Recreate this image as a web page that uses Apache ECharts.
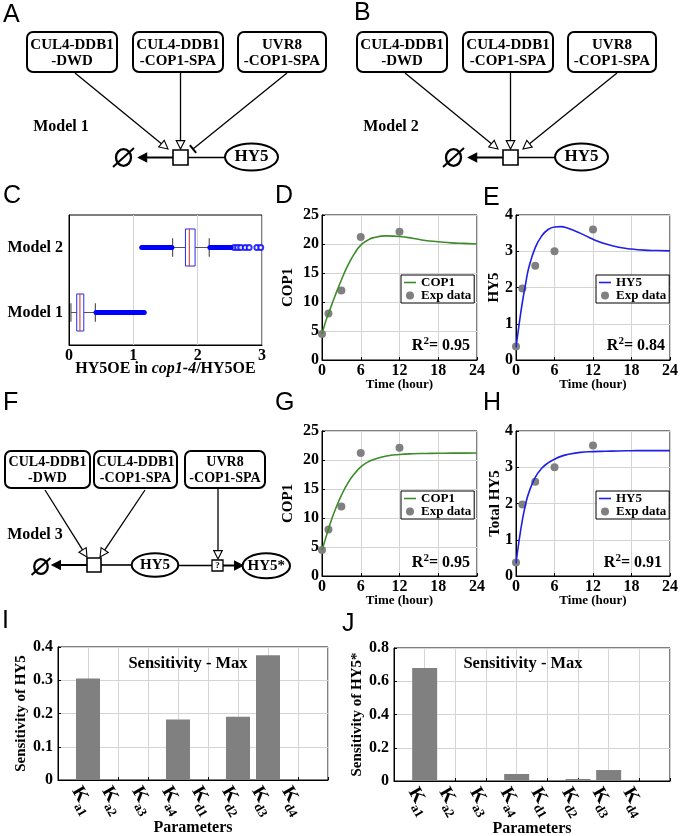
<!DOCTYPE html>
<html><head><meta charset="utf-8">
<script src="https://cdn.jsdelivr.net/npm/echarts@6/dist/echarts.min.js"></script>
<style>html,body{margin:0;padding:0;background:#fff}#c{width:680px;height:836px}</style>
</head><body><div id="c"></div>
<script>
// ---------------- data ----------------
const timeTicks = [0, 6, 12, 18, 24];
const expTime = [0, 1, 3, 6, 12];
const expCOP1 = [4.5, 8.0, 12.0, 21.2, 22.1];
const expHY5 = [0.37, 1.97, 2.6, 3.0, 3.6];
const modelTime = [0, 0.5, 1, 1.5, 2, 3, 4, 5, 6, 7, 8, 10, 12, 14, 16, 18, 20, 22, 24];
const model1COP1 = [4.5, 6.4, 8.0, 9.5, 11.0, 13.8, 16.3, 18.3, 19.8, 20.6, 21.1, 21.4, 21.3, 21.0, 20.6, 20.4, 20.2, 20.1, 20.0];
const model1HY5 = [0.35, 1.0, 1.6, 2.1, 2.55, 3.1, 3.42, 3.6, 3.67, 3.68, 3.64, 3.5, 3.33, 3.2, 3.11, 3.06, 3.03, 3.02, 3.01];
const model3COP1 = [4.5, 6.3, 8.1, 9.8, 11.3, 13.9, 16.0, 17.6, 18.8, 19.6, 20.1, 20.7, 20.95, 21.08, 21.13, 21.16, 21.18, 21.19, 21.2];
const model3HY5 = [0.35, 1.0, 1.55, 1.98, 2.3, 2.72, 2.97, 3.12, 3.22, 3.3, 3.35, 3.41, 3.43, 3.44, 3.45, 3.455, 3.46, 3.46, 3.46];
const r2Labels = ['0.95', '0.84', '0.95', '0.91'];

const boxCategories = ['Model 1', 'Model 2'];
// [lower whisker, Q1, median, Q3, upper whisker]
const boxStats = [[0.03, 0.12, 0.17, 0.23, 0.41], [1.61, 1.81, 1.87, 1.96, 2.18]];
// [category index, start, end] of densely packed outliers
const denseOutliers = [[0, 0.42, 1.17], [1, 1.13, 1.60], [1, 2.19, 2.52]];
const sparseOutliers = [[2.57, 1], [2.62, 1], [2.67, 1], [2.74, 1], [2.80, 1], [2.92, 1], [2.98, 1]];

const paramNames = ['a1', 'a2', 'a3', 'a4', 'd1', 'd2', 'd3', 'd4'];
const sensHY5 = [0.305, 0, 0, 0.182, 0, 0.19, 0.375, 0];
const sensHY5star = [0.68, 0, 0, 0.042, 0, 0.012, 0.066, 0];

// ---------------- styles ----------------
const SERIF = '"Liberation Serif","Times New Roman",Times,serif';
const SANS = '"Liberation Sans",Arial,Helvetica,sans-serif';
const GRIDC = '#d4d4d4';
const GREEN = '#3d8b2b';
const BLUE = '#1f1fe6';
const GRAY = '#808080';

function lbl(size, extra) { return Object.assign({ color: '#000', fontFamily: SERIF, fontWeight: 'bold', fontSize: size, margin: 3 }, extra || {}); }
function nameStyle(size, extra) { return Object.assign({ color: '#000', fontFamily: SERIF, fontWeight: 'bold', fontSize: size }, extra || {}); }
function valAxis(gi, min, max, interval, o) {
  return Object.assign({
    gridIndex: gi, type: 'value', min: min, max: max, interval: interval,
    nameMoveOverlap: false,
    axisLine: { show: true, onZero: false, lineStyle: { color: '#000', width: 1 } },
    axisTick: { show: true, inside: true, length: 3, lineStyle: { color: '#000' } },
    axisLabel: lbl(16),
    splitLine: { show: true, lineStyle: { color: GRIDC, width: 1 } }
  }, o || {});
}

// ---------------- graphics (diagrams, labels) ----------------
const G = [];
const LW = 1.3;
function gline(x1, y1, x2, y2, w) { G.push({ type: 'line', z: 10, silent: true, shape: { x1: x1, y1: y1, x2: x2, y2: y2 }, style: { stroke: '#000', lineWidth: w || LW } }); }
function gtext(x, y, str, font, align, valign, extra) {
  G.push({ type: 'text', z: 11, silent: true, style: Object.assign({ x: x, y: y, text: str, font: font, fill: '#000',
    align: align || 'center', verticalAlign: valign || 'middle', textAlign: align || 'center', textVerticalAlign: valign || 'middle' }, extra || {}) });
}
function gbox(x, y, w, h, l1, l2, font) {
  G.push({ type: 'rect', z: 10, silent: true, shape: { x: x, y: y, width: w, height: h, r: 6 }, style: { fill: '#fff', stroke: '#000', lineWidth: 2 } });
  gtext(x + w / 2, y + h * 0.32, l1, font);
  gtext(x + w / 2, y + h * 0.74, l2, font);
}
function garrow(fx, fy, tx, ty, kind) {
  const dx = tx - fx, dy = ty - fy, L = Math.hypot(dx, dy), ux = dx / L, uy = dy / L, nx = -uy, ny = ux;
  if (kind === 'bar') { gline(fx, fy, tx, ty); gline(tx + nx * 5, ty + ny * 5, tx - nx * 5, ty - ny * 5, 2); return; }
  const len = 8.4, half = 4.3;
  const bx = tx - ux * len, by = ty - uy * len;
  gline(fx, fy, bx, by, kind === 'filled' ? 2 : LW);
  G.push({ type: 'polygon', z: 10, silent: true, shape: { points: [[tx, ty], [bx + nx * half, by + ny * half], [bx - nx * half, by - ny * half]] },
    style: { fill: kind === 'filled' ? '#000' : '#fff', stroke: '#000', lineWidth: 1.1 } });
}
function gempty(cx, cy, s) {
  G.push({ type: 'ellipse', z: 10, silent: true, shape: { cx: cx, cy: cy, rx: 7.5 * s, ry: 8.3 * s }, style: { fill: 'none', stroke: '#000', lineWidth: 2.3 } });
  gline(cx - 10.5 * s, cy + 9.5 * s, cx + 10.5 * s, cy - 9.5 * s, 2);
}
function gellipse(cx, cy, rx, ry, label, font) {
  G.push({ type: 'ellipse', z: 10, silent: true, shape: { cx: cx, cy: cy, rx: rx, ry: ry }, style: { fill: '#fff', stroke: '#000', lineWidth: 2 } });
  gtext(cx, cy, label, font);
}
function gsquare(x, y, s, lw) { G.push({ type: 'rect', z: 10, silent: true, shape: { x: x, y: y, width: s, height: s }, style: { fill: '#fff', stroke: '#000', lineWidth: lw || 1.6 } }); }

function modelAB(ox, label, third) {
  const F15 = 'bold 15px ' + SERIF;
  gbox(ox + 27, 32, 90, 40, 'CUL4-DDB1', '-DWD', F15);
  gbox(ox + 133, 32, 90, 40, 'CUL4-DDB1', '-COP1-SPA', F15);
  gbox(ox + 238, 32, 88, 40, 'UVR8', '-COP1-SPA', F15);
  gtext(ox + 61, 127, label, 'bold 16px ' + SERIF);
  garrow(ox + 75, 73, ox + 168, 149, 'open');
  garrow(ox + 180.5, 73, ox + 180.5, 149, 'open');
  garrow(ox + 287, 73, ox + 193, 149, third);
  garrow(ox + 173, 157.5, ox + 138.3, 157.5, 'filled');
  gline(ox + 188, 157.5, ox + 225, 157.5, 1.6);
  gsquare(ox + 173, 150, 15);
  gempty(ox + 123.5, 157.5, 1);
  gellipse(ox + 251.5, 157, 26.5, 13.5, 'HY5', 'bold 17px ' + SERIF);
}
modelAB(0, 'Model 1', 'bar');
modelAB(330, 'Model 2', 'open');

(function modelF() {
  const F14 = 'bold 14px ' + SERIF;
  gbox(5, 451, 85, 37, 'CUL4-DDB1', '-DWD', F14);
  gbox(94, 451, 83, 37, 'CUL4-DDB1', '-COP1-SPA', F14);
  gbox(185, 451, 80, 37, 'UVR8', '-COP1-SPA', F14);
  gtext(35, 535, 'Model 3', 'bold 16px ' + SERIF);
  garrow(45, 490, 87, 557, 'open');
  garrow(145, 490, 100, 557, 'open');
  garrow(218, 489, 218, 559, 'open');
  garrow(87, 565, 52, 565, 'filled');
  gline(101, 565, 132, 565, 1.6);
  gline(178, 565.5, 212, 565.5, 1.6);
  garrow(223, 565.5, 243, 565.5, 'filled');
  gsquare(87, 558, 14);
  gsquare(212, 560, 11, 1.3);
  gtext(217.5, 565.5, '?', 'bold 9px ' + SERIF);
  gempty(41, 566.5, 0.9);
  gellipse(155, 565, 23.3, 11.7, 'HY5', 'bold 15px ' + SERIF);
  gellipse(266.3, 565.8, 23.7, 12.5, 'HY5*', 'bold 15px ' + SERIF);
})();

// panel letters
[['A', 3, 7], ['B', 354, 5], ['C', 3, 188], ['D', 275, 188], ['E', 483, 190], ['F', 3, 395], ['G', 275, 395], ['H', 483, 395], ['I', 2, 613], ['J', 342, 616]]
  .forEach(function (p) { gtext(p[1], p[2] - 4, p[0], '25px ' + SANS, 'left', 'top'); });

// R^2 annotations
const r2Pos = [[470, 346], [665, 346], [470, 563], [662, 563]];
r2Pos.forEach(function (p, i) {
  gtext(p[0], p[1], '{a|R}{s|2}{a|= ' + r2Labels[i] + '}', 'bold 16px ' + SERIF, 'right', 'middle', {
    rich: {
      a: { fontFamily: SERIF, fontWeight: 'bold', fontSize: 16, lineHeight: 20, fill: '#000', color: '#000' },
      s: { fontFamily: SERIF, fontWeight: 'bold', fontSize: 11, verticalAlign: 'top', fill: '#000', color: '#000' }
    }
  });
});
// sensitivity titles
gtext(188, 664, 'Sensitivity - Max', 'bold 16.5px ' + SERIF);
gtext(523, 664, 'Sensitivity - Max', 'bold 16.5px ' + SERIF);

// ---------------- custom renderers ----------------
function renderBox(params, api) {
  const c = api.value(0);
  const y = api.coord([0, c])[1];
  const h = api.size([0, 1])[1] * 0.57;
  const X = function (k) { return api.coord([api.value(k), c])[0]; };
  const lo = X(1), q1 = X(2), md = X(3), q3 = X(4), hi = X(5);
  const wc = '#555';
  return { type: 'group', children: [
    { type: 'line', shape: { x1: lo, y1: y, x2: q1, y2: y }, style: { stroke: wc, lineWidth: 1 } },
    { type: 'line', shape: { x1: q3, y1: y, x2: hi, y2: y }, style: { stroke: wc, lineWidth: 1 } },
    { type: 'line', shape: { x1: lo, y1: y - h / 4, x2: lo, y2: y + h / 4 }, style: { stroke: wc, lineWidth: 1.2 } },
    { type: 'line', shape: { x1: hi, y1: y - h / 4, x2: hi, y2: y + h / 4 }, style: { stroke: wc, lineWidth: 1.2 } },
    { type: 'rect', shape: { x: q1, y: y - h / 2, width: q3 - q1, height: h }, style: { fill: 'transparent', stroke: '#2a2ae8', lineWidth: 1 } },
    { type: 'line', shape: { x1: md, y1: y - h / 2, x2: md, y2: y + h / 2 }, style: { stroke: '#d02a2a', lineWidth: 1 } }
  ] };
}
function renderDense(params, api) {
  const c = api.value(0);
  const y = api.coord([0, c])[1];
  const a = api.coord([api.value(1), c])[0], b = api.coord([api.value(2), c])[0];
  return { type: 'line', shape: { x1: a, y1: y, x2: b, y2: y }, style: { stroke: '#0000ff', lineWidth: 5, lineCap: 'round' } };
}

function pairs(xs, ys) { return xs.map(function (x, i) { return [x, ys[i]]; }); }

const LINE_ICON = 'path://M0,0H12V1.6H0Z';
const legendBase = {
  orient: 'vertical', itemGap: 0, itemWidth: 12, itemHeight: 8, padding: [1, 3, 1, 3],
  borderColor: '#000', borderWidth: 1, backgroundColor: '#fff', selectedMode: false, symbolKeepAspect: true,
  textStyle: { fontFamily: SERIF, fontWeight: 'bold', fontSize: 13, color: '#000', lineHeight: 13 }
};

const kRich = {
  k: { fontFamily: SERIF, fontWeight: 'bold', fontSize: 19, lineHeight: 28, color: '#000' },
  s: { fontFamily: SERIF, fontWeight: 'bold', fontSize: 13, verticalAlign: 'bottom', color: '#000' }
};
function kFormatter(v) { const i = Math.round(v); return (i >= 1 && i <= 8) ? '{k|K}{s|' + paramNames[i - 1] + '}' : ''; }

const grids = [
  { left: 69, top: 215, width: 193, height: 130 },
  { left: 322, top: 215, width: 155, height: 145 },
  { left: 516, top: 215, width: 154, height: 145 },
  { left: 322, top: 431, width: 155, height: 145 },
  { left: 516, top: 431, width: 154, height: 145 },
  { left: 58, top: 647, width: 270, height: 133 },
  { left: 394, top: 648, width: 276, height: 133 }
].map(function (g) { return Object.assign(g, { show: true, borderColor: '#000', borderWidth: 1, backgroundColor: 'transparent', containLabel: false, outerBoundsMode: 'none' }); });

const timeName = { name: 'Time (hour)', nameLocation: 'middle', nameGap: 18, nameTextStyle: nameStyle(13) };
function yName(n, gap) { return { name: n, nameLocation: 'middle', nameGap: gap, nameRotate: 90, nameTextStyle: nameStyle(15) }; }

const kLabel = { formatter: kFormatter, rich: kRich, rotate: -60, align: 'left', verticalAlign: 'top', margin: 1, color: '#000' };

const option = {
  animation: false,
  backgroundColor: '#fff',
  grid: grids,
  xAxis: [
    valAxis(0, 0, 3, 1, { axisTick: { show: false }, name: 'HY5OE in {i|cop1-4}/HY5OE', nameLocation: 'middle', nameGap: 16,
      nameTextStyle: nameStyle(16, { rich: { i: { fontFamily: SERIF, fontWeight: 'bold', fontStyle: 'italic', fontSize: 16, color: '#000' } } }) }),
    valAxis(1, 0, 24, 6, timeName),
    valAxis(2, 0, 24, 6, timeName),
    valAxis(3, 0, 24, 6, timeName),
    valAxis(4, 0, 24, 6, timeName),
    valAxis(5, 0, 9, 1, { axisLabel: kLabel, name: 'Parameters', nameLocation: 'middle', nameGap: 40, nameTextStyle: nameStyle(16) }),
    valAxis(6, 0, 9, 1, { axisLabel: kLabel, name: 'Parameters', nameLocation: 'middle', nameGap: 40, nameTextStyle: nameStyle(16) })
  ],
  yAxis: [
    { gridIndex: 0, type: 'category', data: boxCategories, nameMoveOverlap: false,
      axisLine: { show: true, lineStyle: { color: '#000' } }, axisTick: { show: false },
      axisLabel: lbl(16, { margin: 6 }), splitLine: { show: false } },
    valAxis(1, 0, 25, 5, yName('COP1', 26)),
    valAxis(2, 0, 4, 1, yName('HY5', 14)),
    valAxis(3, 0, 25, 5, yName('COP1', 26)),
    valAxis(4, 0, 4, 1, yName('Total HY5', 13)),
    valAxis(5, 0, 0.4, 0.1, Object.assign(yName('Sensitivity of HY5', 29), { axisLabel: lbl(16, { margin: 5 }) })),
    valAxis(6, 0, 0.8, 0.2, Object.assign(yName('Sensitivity of HY5*', 29), { axisLabel: lbl(16, { margin: 5 }) }))
  ],
  legend: [
    Object.assign({ left: 401, top: 275, data: [{ name: 'COP1', icon: LINE_ICON }, { name: 'Exp data', icon: 'circle' }] }, legendBase),
    Object.assign({ left: 596, top: 275, data: [{ name: 'HY5', icon: LINE_ICON }, { name: 'Exp data', icon: 'circle' }] }, legendBase),
    Object.assign({ left: 401, top: 491, data: [{ name: 'COP1', icon: LINE_ICON }, { name: 'Exp data', icon: 'circle' }] }, legendBase),
    Object.assign({ left: 596, top: 491, data: [{ name: 'HY5', icon: LINE_ICON }, { name: 'Exp data', icon: 'circle' }] }, legendBase)
  ],
  graphic: { elements: G },
  series: [
    { type: 'custom', name: 'box', xAxisIndex: 0, yAxisIndex: 0, data: boxStats.map(function (s, i) { return [i].concat(s); }),
      renderItem: renderBox, encode: { x: [1, 2, 3, 4, 5], y: 0 }, z: 3 },
    { type: 'custom', name: 'outliers', xAxisIndex: 0, yAxisIndex: 0, data: denseOutliers, renderItem: renderDense, encode: { x: [1, 2], y: 0 }, z: 3 },
    { type: 'scatter', name: 'outliers2', xAxisIndex: 0, yAxisIndex: 0, data: sparseOutliers, symbol: 'emptyCircle', symbolSize: 5,
      itemStyle: { color: '#0000ff', borderColor: '#0000ff', borderWidth: 1 } },

    { type: 'line', name: 'COP1', xAxisIndex: 1, yAxisIndex: 1, data: pairs(modelTime, model1COP1), smooth: true, symbol: 'none', lineStyle: { color: GREEN, width: 1.6 }, itemStyle: { color: GREEN } },
    { type: 'scatter', name: 'Exp data', xAxisIndex: 1, yAxisIndex: 1, data: pairs(expTime, expCOP1), symbolSize: 8, itemStyle: { color: GRAY, opacity: 1 } },
    { type: 'line', name: 'HY5', xAxisIndex: 2, yAxisIndex: 2, data: pairs(modelTime, model1HY5), smooth: true, symbol: 'none', lineStyle: { color: BLUE, width: 1.6 }, itemStyle: { color: BLUE } },
    { type: 'scatter', name: 'Exp data', xAxisIndex: 2, yAxisIndex: 2, data: pairs(expTime, expHY5), symbolSize: 8, itemStyle: { color: GRAY, opacity: 1 } },
    { type: 'line', name: 'COP1', xAxisIndex: 3, yAxisIndex: 3, data: pairs(modelTime, model3COP1), smooth: true, symbol: 'none', lineStyle: { color: GREEN, width: 1.6 }, itemStyle: { color: GREEN } },
    { type: 'scatter', name: 'Exp data', xAxisIndex: 3, yAxisIndex: 3, data: pairs(expTime, expCOP1), symbolSize: 8, itemStyle: { color: GRAY, opacity: 1 } },
    { type: 'line', name: 'HY5', xAxisIndex: 4, yAxisIndex: 4, data: pairs(modelTime, model3HY5), smooth: true, symbol: 'none', lineStyle: { color: BLUE, width: 1.6 }, itemStyle: { color: BLUE } },
    { type: 'scatter', name: 'Exp data', xAxisIndex: 4, yAxisIndex: 4, data: pairs(expTime, expHY5), symbolSize: 8, itemStyle: { color: GRAY, opacity: 1 } },

    { type: 'bar', name: 'sensHY5', xAxisIndex: 5, yAxisIndex: 5, data: pairs(paramNames.map(function (n, i) { return i + 1; }), sensHY5), barWidth: 24, itemStyle: { color: GRAY } },
    { type: 'bar', name: 'sensHY5star', xAxisIndex: 6, yAxisIndex: 6, data: pairs(paramNames.map(function (n, i) { return i + 1; }), sensHY5star), barWidth: 25, itemStyle: { color: GRAY } }
  ]
};

const chart = echarts.init(document.getElementById('c'), null, { renderer: 'canvas', width: 680, height: 836 });
chart.setOption(option);
</script>
</body></html>
